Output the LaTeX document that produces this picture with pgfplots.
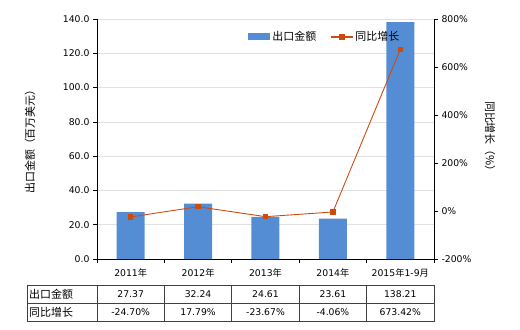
\documentclass[border=0pt]{standalone}
\usepackage{pgfplots}
\pgfplotsset{compat=1.18}
\usepackage{fontspec}
\setmainfont{DejaVu Sans}
\newfontfamily\cjk{Noto Sans CJK SC}
\definecolor{barblue}{RGB}{84,141,212}
\definecolor{lineorange}{RGB}{204,76,16}
\definecolor{gridgray}{RGB}{225,225,225}
\definecolor{tabgray}{RGB}{64,64,64}
\newcommand{\tf}{\fontsize{9.3}{11}\selectfont}
\newcommand{\cf}{\cjk\fontsize{11}{13}\selectfont}
\begin{document}
\begin{tikzpicture}
\begin{axis}[
  scale only axis, width=337bp, height=240bp,
  xmin=-0.5, xmax=4.5, ymin=0, ymax=140,
  axis x line*=bottom, axis y line*=left,
  xtick={0,1,2,3,4},
  xticklabels={2011{\cjk 年},2012{\cjk 年},2013{\cjk 年},2014{\cjk 年},2015{\cjk 年}1-9{\cjk 月}},
  major x tick style={draw=none},
  minor xtick={-0.5,0.5,1.5,2.5,3.5,4.5},
  minor tick length=4bp,
  x tick label style={font=\tf, yshift=-2bp},
  ytick={0,20,40,60,80,100,120,140},
  yticklabels={0.0,20.0,40.0,60.0,80.0,100.0,120.0,140.0},
  y tick label style={font=\tf},
  tick align=outside, major tick length=4bp,
  ymajorgrids, grid style={gridgray, line width=0.6pt},
  axis line style={black, line width=0.8pt},
  tick style={black, line width=0.6pt},
  ylabel={\cf 出口金额（百万美元）},
  ylabel style={at={(axis description cs:-0.199,0.5)}, anchor=center},
  legend style={at={(axis description cs:0.44,0.925)}, anchor=west, draw=none, fill=none, legend columns=2, font=\cf, /tikz/every even column/.append style={column sep=12bp}},
  clip=false,
]
\addplot[ybar, bar width=28bp, fill=barblue, draw=none,
  legend image code/.code={\fill[barblue] (0bp,-3.5bp) rectangle (22bp,3.5bp);}]
  coordinates {(0,27.37) (1,32.24) (2,24.61) (3,23.61) (4,138.21)};
\addlegendentry{出口金额}
\addlegendimage{legend image code/.code={\draw[lineorange, line width=1.2pt] (0bp,0bp) -- (22bp,0bp); \fill[lineorange] (8.5bp,-2.5bp) rectangle (13.5bp,2.5bp);}}
\addlegendentry{同比增长}
\end{axis}
\begin{axis}[
  scale only axis, width=337bp, height=240bp,
  xmin=-0.5, xmax=4.5, ymin=-200, ymax=800,
  hide x axis, axis y line*=right,
  ytick={-200,0,200,400,600,800},
  yticklabels={-200\%,0\%,200\%,400\%,600\%,800\%},
  y tick label style={font=\tf},
  tick align=outside, major tick length=4bp,
  axis line style={black, line width=0.8pt},
  tick style={black, line width=0.6pt},
  ylabel={\cf 同比增长（\%）},
  ylabel style={at={(axis description cs:1.166,0.5)}, anchor=center, rotate=180},
  clip=false,
]
\addplot[lineorange, line width=0.9pt, mark=square*, mark size=2.2bp, mark options={lineorange}]
  coordinates {(0,-24.70) (1,17.79) (2,-23.67) (3,-4.06) (4,673.42)};
\end{axis}
% table
\begin{scope}[tabgray, line width=0.8pt]
\draw (-70bp,-26bp) rectangle (337bp,-62bp);
\draw (-70bp,-44bp) -- (337bp,-44bp);
\foreach \x in {0,67.4,134.8,202.2,269.6} {\draw (\x bp,-26bp) -- (\x bp,-62bp);}
\end{scope}
\node[anchor=west, font=\cf, inner sep=0pt] at (-68bp,-35bp) {出口金额};
\node[anchor=west, font=\cf, inner sep=0pt] at (-68bp,-53bp) {同比增长};
\foreach \v [count=\i from 0] in {27.37,32.24,24.61,23.61,138.21} {
  \node[font=\tf, inner sep=0pt] at ({(\i+0.5)*67.4bp},-35.5bp) {\v};
}
\foreach \v [count=\i from 0] in {-24.70\%,17.79\%,-23.67\%,-4.06\%,673.42\%} {
  \node[font=\tf, inner sep=0pt] at ({(\i+0.5)*67.4bp},-53.5bp) {\v};
}
\pgfresetboundingbox
\path[use as bounding box] (-97bp,-71bp) rectangle (423bp,259bp);
\end{tikzpicture}
\end{document}
